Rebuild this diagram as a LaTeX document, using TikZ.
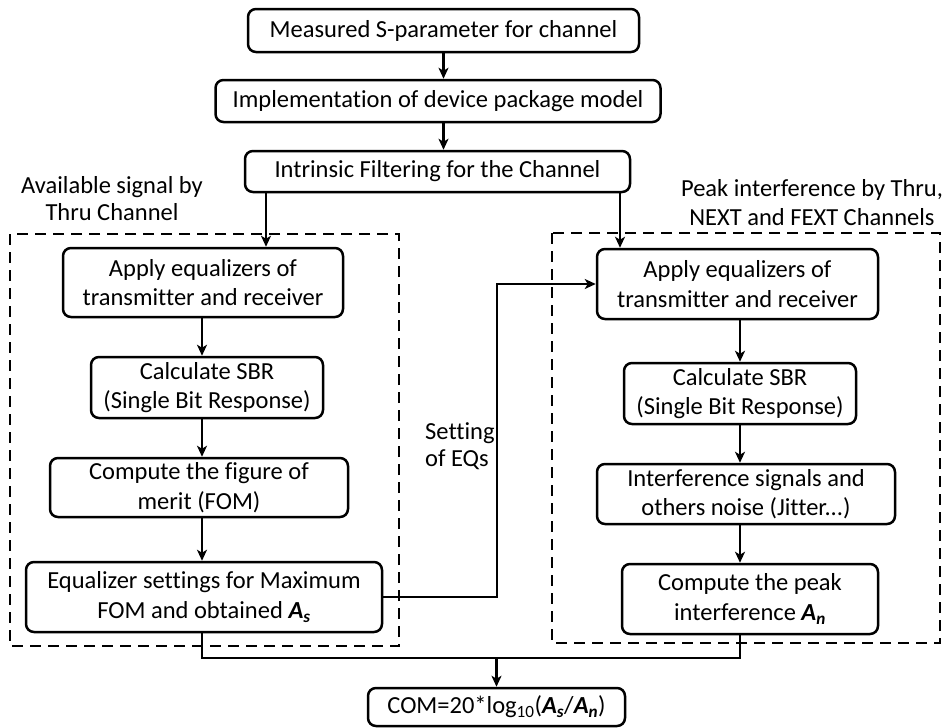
\documentclass[tikz,border=0pt]{standalone}
\usepackage{fontspec}
\setmainfont{Carlito}[Ligatures=NoCommon]
\usetikzlibrary{arrows.meta,calc}
\newcommand{\bA}[1]{\textbf{\textit{A}}\textsubscript{\textbf{\textit{#1}}}}
\begin{document}
\begin{tikzpicture}[x=1pt,y=-1pt,
  every node/.style={font=\fontsize{24.5}{29.5}\selectfont},
  box/.style={draw,rounded corners=8pt,line width=2.5pt,align=center,inner sep=0pt},
  lbl/.style={align=center,inner sep=0pt},
  arr/.style={line width=2.2pt,-{Stealth[length=11pt,width=10pt,inset=3pt]}},
  ln/.style={line width=2.2pt},
  dbox/.style={line width=2.5pt,dash pattern=on 11pt off 7pt}]
\useasboundingbox (0,0) rectangle (948,728);
% top chain
\node[box,minimum width=391pt,minimum height=43pt] (b1) at (443.5,30.5) {Measured S-parameter for channel};
\node[box,minimum width=445pt,minimum height=42pt] (b2) at (438,101) {Implementation of device package model};
\node[box,minimum width=385pt,minimum height=41pt] (b3) at (437.5,171.5) {Intrinsic Filtering for the Channel};
% dashed groups
\draw[dbox] (10,234) rectangle (399,646);
\draw[dbox] (552,233) rectangle (940,643);
% left column
\node[box,minimum width=280pt,minimum height=69pt] (la) at (203,282.5) {Apply equalizers of\\transmitter and receiver};
\node[box,minimum width=232pt,minimum height=61pt] (ls) at (207,387.5) {Calculate SBR\\(Single Bit Response)};
\node[box,minimum width=298pt,minimum height=59pt] (lf) at (199,487.5) {Compute the figure of\\merit (FOM)};
\node[box,minimum width=356pt,minimum height=70pt] (le) at (204,597) {Equalizer settings for Maximum\\FOM and obtained \bA{s}};
% right column
\node[box,minimum width=281pt,minimum height=70pt] (ra) at (737.5,284) {Apply equalizers of\\transmitter and receiver};
\node[box,minimum width=232pt,minimum height=61pt] (rs) at (740,393.5) {Calculate SBR\\(Single Bit Response)};
\node[box,minimum width=298pt,minimum height=60pt] (ri) at (746,494) {Interference signals and\\others noise (Jitter...)};
\node[box,minimum width=256pt,minimum height=70pt] (rc) at (750,599) {Compute the peak\\interference \bA{n}};
% result
\node[box,minimum width=257pt,minimum height=38pt] (com) at (496.5,707) {COM=20*log\textsubscript{10}(\bA{s}/\bA{n})};
% labels
\node[lbl,font=\fontsize{24.5}{27}\selectfont] (tl) at (112,198.5) {Available signal by\\Thru Channel};
\node[lbl,font=\fontsize{24.5}{29}\selectfont] (tr) at (812,202.5) {Peak interference by Thru,\\NEXT and FEXT Channels};
\node[lbl,align=left,anchor=west,fill=white,font=\fontsize{24.5}{27}\selectfont] (ts) at (425,446.5) {Setting\\of EQs};
% helper coordinates
\coordinate (cx) at (443.5,0);
\coordinate (lx) at (266,0);
\coordinate (rx0) at (620,0);
\coordinate (lc) at (202,0);
\coordinate (rcx) at (740,0);
\coordinate (sx) at (497,0);
\coordinate (jy) at (0,658);
% connectors
\draw[arr] (b1.south -| cx) -- (b2.north -| cx);
\draw[arr] (b2.south -| cx) -- (b3.north -| cx);
\draw[arr] (b3.south -| lx) -- (la.north -| lx);
\draw[arr] (b3.south -| rx0) -- (ra.north -| rx0);
\draw[arr] (la.south -| lc) -- (ls.north -| lc);
\draw[arr] (ls.south -| lc) -- (lf.north -| lc);
\draw[arr] (lf.south -| lc) -- (le.north -| lc);
\draw[arr] (ra.south -| rcx) -- (rs.north -| rcx);
\draw[arr] (rs.south -| rcx) -- (ri.north -| rcx);
\draw[arr] (ri.south -| rcx) -- (rc.north -| rcx);
\draw[arr] (le.east) -- (le.east -| sx) -- (sx |- ra.west) -- (ra.west);
\draw[ln] (le.south -| lc) -- (lc |- jy) -- (rcx |- jy) -- (rc.south -| rcx);
\draw[arr] (com.north |- jy) -- (com.north);
\end{tikzpicture}
\end{document}
